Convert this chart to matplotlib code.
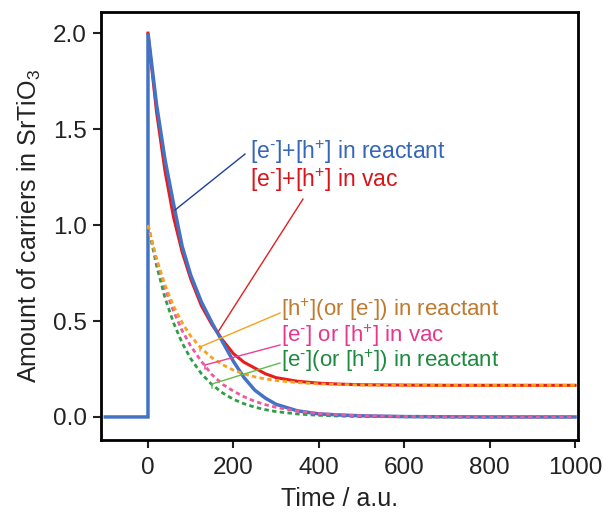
import matplotlib
matplotlib.use("Agg")
import matplotlib.pyplot as plt

fam = ['Liberation Sans', 'DejaVu Sans']
plt.rcParams['font.family'] = fam
plt.rcParams['mathtext.fontset'] = 'custom'
plt.rcParams['mathtext.rm'] = 'Liberation Sans'

# Data
t = [0, 20, 40, 60, 80, 100, 125, 150, 175, 200, 225, 250, 275, 300, 350, 400, 450, 500, 600, 700, 800, 900, 1000]
total_reactant = [2.0, 1.63, 1.34, 1.11, 0.89, 0.74, 0.60, 0.49, 0.39, 0.29, 0.205, 0.14, 0.098, 0.066, 0.032, 0.016, 0.010, 0.006, 0.002, 0.001, 0.0, 0.0, 0.0]
total_vac = [2.0, 1.59, 1.28, 1.04, 0.86, 0.72, 0.58, 0.48, 0.40, 0.33, 0.285, 0.255, 0.225, 0.205, 0.186, 0.176, 0.171, 0.168, 0.166, 0.165, 0.165, 0.165, 0.165]
h_reactant = [1.0, 0.825, 0.687, 0.577, 0.491, 0.422, 0.357, 0.308, 0.272, 0.244, 0.224, 0.209, 0.198, 0.19, 0.179, 0.172, 0.169, 0.167, 0.166, 0.165, 0.165, 0.165, 0.165]
eh_vac = [1.0, 0.82, 0.67, 0.55, 0.45, 0.37, 0.29, 0.22, 0.17, 0.135, 0.105, 0.082, 0.064, 0.05, 0.03, 0.018, 0.011, 0.007, 0.0025, 0.001, 0.0, 0.0, 0.0]
e_reactant = [1.0, 0.79, 0.62, 0.49, 0.386, 0.304, 0.226, 0.168, 0.125, 0.092, 0.069, 0.051, 0.038, 0.028, 0.0155, 0.0086, 0.0047, 0.0026, 0.0008, 0.0, 0.0, 0.0, 0.0]
t_pre = [-100, 0]
pre_vals = [0.0, 0.0]

fig = plt.figure(figsize=(6.06, 5.18), dpi=100)
ax = fig.add_axes([101/606, 1-440/518, (578-101)/606, (440-12)/518])

c_blue = '#4472C4'
c_red = '#E81C1C'
c_orange = '#F7A21B'
c_pink = '#EE5AA0'
c_green = '#2E9E48'

ax.plot(t_pre + t, pre_vals + total_reactant, color=c_blue, lw=2.5, zorder=3, solid_joinstyle='miter')
ax.plot(t, total_vac, color=c_red, lw=2.2, zorder=2.5)
dash = (0, (1.6, 1.2))
ax.plot(t, e_reactant, color=c_green, lw=2.0, ls=dash, zorder=2)
ax.plot(t, eh_vac, color=c_pink, lw=2.0, ls=dash, zorder=4)
ax.plot(t, h_reactant, color=c_orange, lw=2.0, ls=dash, zorder=4)

ax.set_xlim(-110, 1007)
ax.set_ylim(-0.12, 2.11)
ax.set_xticks([0, 200, 400, 600, 800, 1000])
ax.set_yticks([0.0, 0.5, 1.0, 1.5, 2.0])
ax.set_yticklabels(['0.0', '0.5', '1.0', '1.5', '2.0'])
ax.tick_params(direction='out', length=6, width=1.5, labelsize=17.5, colors='#222222', pad=4)
ax.tick_params(axis='x', pad=6)
for s in ax.spines.values():
    s.set_linewidth(2.0)
ax.set_xlabel('Time / a.u.', fontsize=18, color='#222222', labelpad=6)
ax.set_ylabel(r'Amount of carriers in SrTiO$_{\mathregular{3}}$', fontsize=18, color='#222222', labelpad=7)

def px2data(x, y):
    return ((x - 148) / 0.427, (417 - y) / 192.0)

sup_m = '$^{\\mathregular{\u2010}}$'
sup_p = r'$^{\mathregular{+}}$'
labels = [
    ('[e' + sup_m + ']+[h' + sup_p + '] in reactant', (250, 152), '#3566B8', 16.5),
    ('[e' + sup_m + ']+[h' + sup_p + '] in vac', (250, 180), '#D9151B', 16.5),
    ('[h' + sup_p + '](or [e' + sup_m + ']) in reactant', (281, 310), '#C07A30', 16),
    ('[e' + sup_m + '] or [h' + sup_p + '] in vac', (281, 336), '#E8368F', 16),
    ('[e' + sup_m + '](or [h' + sup_p + ']) in reactant', (281, 361), '#1E8A40', 16),
]
for txt, (x, y), col, fs in labels:
    dx, dy = px2data(x, y)
    ax.text(dx, dy, txt, fontsize=fs, color=col, ha='left', va='center')

leaders = [
    ([(245, 154), (175, 210)], '#1F3F9F'),
    ([(303, 199), (218, 332)], '#E02020'),
    ([(280, 313), (200, 347), (200, 351)], '#F7A21B'),
    ([(280, 345), (205, 365), (205, 369)], '#EE3E95'),
    ([(280, 363), (212, 384), (212, 388)], '#5BBF4B'),
]
for pts, col in leaders:
    xs = [px2data(*p)[0] for p in pts]
    ys = [px2data(*p)[1] for p in pts]
    ax.plot(xs, ys, color=col, lw=1.0, zorder=5)

fig.savefig('out.png', dpi=100)
